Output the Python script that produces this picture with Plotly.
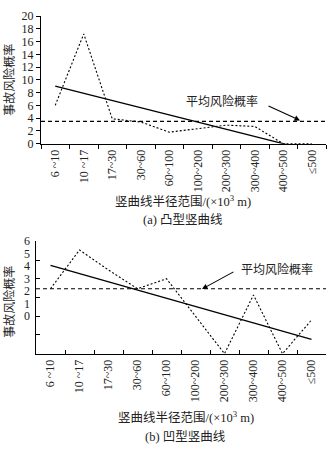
import plotly.graph_objects as go

W, H = 334, 455

categories = ["6 ~10", "10 ~17", "17~30", "30~60", "60~100", "100~200",
              "200~300", "300~400", "400~500", "≤500"]

# (a) 凸型竖曲线
risk_a = [6.0, 17.2, 3.9, 3.4, 1.8, 2.4, 2.9, 2.7, 0.0, 0.0]
trend_a = [9.0, -1.125]           # linear trend at first and last category
avg_a = 3.5
yticks_a = [0, 2, 4, 6, 8, 10, 12, 14, 16, 18, 20]

# (b) 凹型竖曲线
risk_b = [2.2, 5.3, 3.7, 2.2, 3.0, 0.0, -3.0, 1.7, -3.0, -0.3]
trend_b = [4.07, -1.86]
avg_b = 2.2
yticks_b_marks = [-3, -1.5, 0, 1.5, 3, 4.5, 6]
yticks_b_labels = [0, 1, 2, 3, 4, 5, 6]

SERIF = "Liberation Serif, Times New Roman, serif"
CJK = "Liberation Serif, Noto Sans CJK SC, serif"
TXT = "#222"

def px_x(p):
    return p / W

def px_y(p):
    return 1 - p / H

DOT = dict(color="black", width=1.1, dash="2px,2px")
SOLID = dict(color="black", width=1.3)
DASH = dict(color="black", width=1.2, dash="4px,3px")

fig = go.Figure()

# ---- top chart
fig.add_trace(go.Scatter(x=categories, y=risk_a, mode="lines", line=DOT,
                         xaxis="x", yaxis="y", showlegend=False, hoverinfo="skip"))
fig.add_trace(go.Scatter(x=[categories[0], categories[-1]], y=trend_a, mode="lines",
                         line=SOLID, xaxis="x", yaxis="y", showlegend=False, hoverinfo="skip"))

# ---- bottom chart
fig.add_trace(go.Scatter(x=categories, y=risk_b, mode="lines", line=DOT,
                         xaxis="x2", yaxis="y2", showlegend=False, hoverinfo="skip"))
fig.add_trace(go.Scatter(x=[categories[0], categories[-1]], y=trend_b, mode="lines",
                         line=SOLID, xaxis="x2", yaxis="y2", showlegend=False, hoverinfo="skip"))

shapes = [
    dict(type="line", xref="x domain", yref="y", x0=0, x1=1, y0=avg_a, y1=avg_a, line=DASH),
    dict(type="line", xref="x2 domain", yref="y2", x0=0, x1=1, y0=avg_b, y1=avg_b, line=DASH),
]

def txt(x, y, s, size=12.5, angle=0, xa="center", fam=CJK):
    return dict(xref="paper", yref="paper", x=px_x(x), y=px_y(y), text=s,
                showarrow=False, xanchor=xa, yanchor="middle", textangle=angle,
                borderpad=0, font=dict(family=fam, size=size, color=TXT))

annotations = []
# bottom y tick labels (offset from tick marks as in the original)
for v in yticks_b_labels:
    annotations.append(dict(xref="paper", yref="y2", x=px_x(31), y=v, text=str(v),
                            showarrow=False, xanchor="right", yanchor="middle",
                            borderpad=0, font=dict(family=SERIF, size=12, color=TXT)))

annotations += [
    txt(222, 98, "平均风险概率", size=12),
    dict(xref="paper", yref="paper", x=px_x(300), y=px_y(117), text="",
         ax=-33, ay=-15, showarrow=True, arrowhead=2, arrowsize=1, arrowwidth=1.1,
         arrowcolor="black", axref="pixel", ayref="pixel"),
    txt(277, 271, "平均风险概率", size=12),
    dict(xref="paper", yref="paper", x=px_x(202), y=px_y(291), text="",
         ax=33, ay=-18, showarrow=True, arrowhead=2, arrowsize=1, arrowwidth=1.1,
         arrowcolor="black", axref="pixel", ayref="pixel"),
    txt(183, 200, "竖曲线半径范围/(×10<sup>3</sup> m)"),
    txt(183, 220, "(a) 凸型竖曲线"),
    txt(186, 423, "竖曲线半径范围/(×10<sup>3</sup> m)"),
    txt(186, 444, "(b) 凹型竖曲线"),
    txt(10, 75, "事故风险概率", size=12, angle=-90),
    txt(10, 304, "事故风险概率", size=12, angle=-90),
]

xcommon = dict(type="category", categoryorder="array", categoryarray=categories,
               range=[-0.5, 9.5], tickangle=-90, tickson="boundaries",
               showline=True, linecolor="black", linewidth=1.2, showgrid=False,
               zeroline=False, tickcolor="black", ticklen=4,
               tickfont=dict(family=SERIF, size=12, color=TXT))

fig.update_layout(
    width=W, height=H, autosize=False,
    margin=dict(l=0, r=0, t=0, b=0),
    paper_bgcolor="white", plot_bgcolor="white",
    xaxis=dict(domain=[px_x(41), px_x(326)], anchor="y", ticks="outside", **xcommon),
    yaxis=dict(domain=[px_y(141), px_y(9.3)], anchor="x", range=[0, 20],
               tickvals=yticks_a, ticks="outside", ticklen=4, tickcolor="black",
               showline=True, linecolor="black", linewidth=1.2, showgrid=False,
               zeroline=False, tickfont=dict(family=SERIF, size=12, color=TXT)),
    xaxis2=dict(domain=[px_x(36), px_x(326)], anchor="y2", ticks="inside", **xcommon),
    yaxis2=dict(domain=[px_y(357.7), px_y(241.7)], anchor="x2", range=[-3, 6],
                tickvals=yticks_b_marks, ticktext=[""] * len(yticks_b_marks),
                ticks="inside", ticklen=4, tickcolor="black",
                showline=True, linecolor="black", linewidth=1.2, showgrid=False,
                zeroline=False),
    shapes=shapes, annotations=annotations,
)

fig.write_html("out.html", config={"displayModeBar": False, "staticPlot": True},
               post_script="document.body.style.margin='0';document.body.style.overflow='hidden';")
